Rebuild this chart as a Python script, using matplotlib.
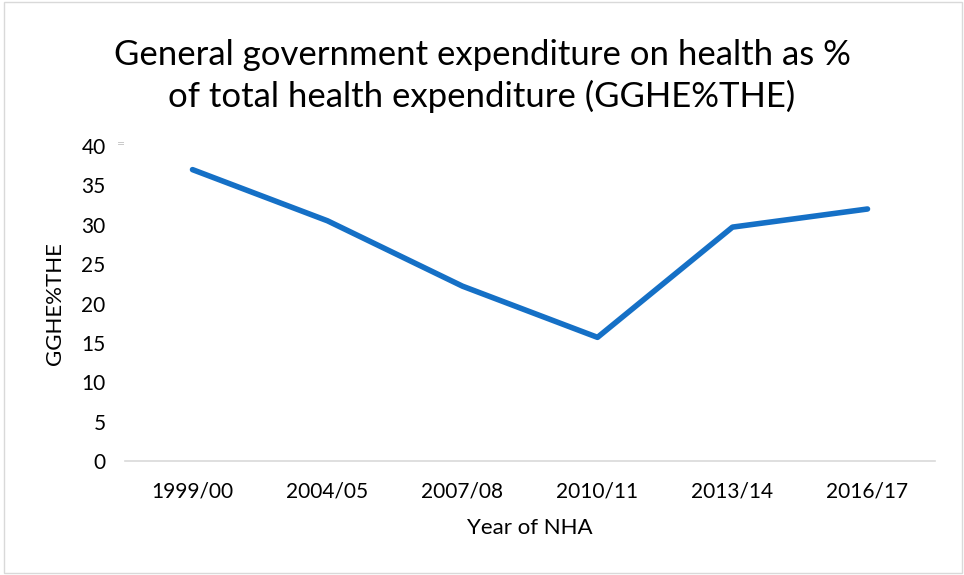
import matplotlib.pyplot as plt
from matplotlib.patches import Rectangle

# GGHE as % of THE by NHA round
years = ["1999/00", "2004/05", "2007/08", "2010/11", "2013/14", "2016/17"]
gghe_pct = [37.0, 30.5, 22.2, 15.7, 29.7, 32.0]
y_ticks = [0, 5, 10, 15, 20, 25, 30, 35, 40]

plt.rcParams["font.family"] = ["Lato", "DejaVu Sans"]

fig = plt.figure(figsize=(9.64, 5.75), dpi=100)
fig.patches.append(Rectangle((0.004, 0.004), 0.994, 0.992, transform=fig.transFigure,
                             fill=False, edgecolor="#d9d9d9", linewidth=1))
ax = fig.add_axes([125 / 964, 1 - 461 / 575, 810 / 964, 315 / 575])

x = list(range(len(years)))
ax.plot(x, gghe_pct, color="#1570c6", linewidth=4, solid_capstyle="round", solid_joinstyle="round")

ax.set_xlim(-0.5, len(years) - 0.5)
ax.set_ylim(0, 40)
ax.set_xticks(x)
ax.set_xticklabels(years)
ax.set_yticks(y_ticks)
ax.tick_params(length=0, labelsize=15, colors="#000000", pad=14)
ax.tick_params(axis="x", pad=15)
for side in ["top", "right", "left"]:
    ax.spines[side].set_visible(False)
ax.spines["bottom"].set_color("#d9d9d9")
ax.spines["bottom"].set_linewidth(1.2)

ax.set_xlabel("Year of NHA", fontsize=16, labelpad=12)
ax.set_ylabel("GGHE%THE", fontsize=16, labelpad=12)

fig.text(0.5, 1 - 76 / 575, "General government expenditure on health as %\nof total health expenditure (GGHE%THE)",
         ha="center", va="center", fontsize=25, linespacing=1.3)
fig.text(121 / 964, 1 - 144 / 575, "=", color="#c8c8c8", fontsize=10, ha="center", va="center")

plt.savefig("out.png", dpi=100)
